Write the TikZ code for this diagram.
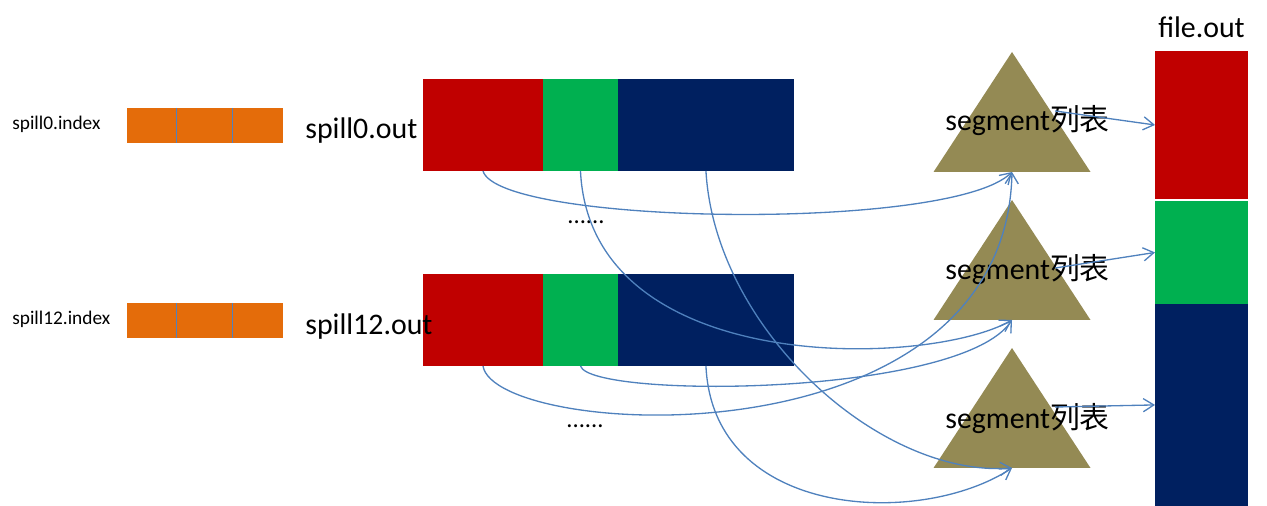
\documentclass[tikz,border=0pt]{standalone}
\usepackage{fontspec}
\setmainfont{Carlito}
\newfontfamily\cjk{Noto Sans CJK SC}
\usepackage{xcolor}
\usepackage{tikz}
\usetikzlibrary{positioning,shapes.geometric,arrows.meta}
\definecolor{partred}{HTML}{C00000}
\definecolor{partgreen}{HTML}{00B050}
\definecolor{partnavy}{HTML}{002060}
\definecolor{idxorange}{HTML}{E46C0A}
\definecolor{segolive}{HTML}{948A54}
\definecolor{linkblue}{HTML}{4F81BD}

\begin{document}
\begin{tikzpicture}[x=0.02cm, y=-0.02cm, >={Straight Barb[length=6pt,width=7.5pt]},
    part/.style={inner sep=0pt, outer sep=0pt, minimum height=1.84cm},
    idxcell/.style={fill=idxorange, inner sep=0pt, outer sep=0pt, minimum height=0.7cm},
    segtri/.style={isosceles triangle, isosceles triangle stretches, shape border rotate=90,
        fill=segolive, inner sep=0pt, outer sep=0pt, minimum width=3.14cm, minimum height=2.4cm, anchor=apex},
    biglabel/.style={inner sep=0pt, font=\fontsize{17}{20}\selectfont},
    smalllabel/.style={inner sep=0pt, anchor=west, font=\fontsize{11}{13}\selectfont},
    divline/.style={draw=linkblue, line width=0.5pt},
    link/.style={->, draw=linkblue, line width=0.75pt}]
    \useasboundingbox (0,0) rectangle (1267,506);

    % index files
    \node[smalllabel] (i0) at (12,124) {spill0.index};
    \node[idxcell, minimum width=0.98cm, anchor=north west] (c01) at (127,108) {};
    \node[idxcell, minimum width=1.12cm, right=0pt of c01] (c02) {};
    \node[idxcell, minimum width=1.02cm, right=0pt of c02] (c03) {};
    \draw[divline] (c01.north east) -- (c01.south east);
    \draw[divline] (c02.north east) -- (c02.south east);

    \node[smalllabel] (i12) at (12,319) {spill12.index};
    \node[idxcell, minimum width=0.98cm, anchor=north west] (c121) at (127,303) {};
    \node[idxcell, minimum width=1.12cm, right=0pt of c121] (c122) {};
    \node[idxcell, minimum width=1.02cm, right=0pt of c122] (c123) {};
    \draw[divline] (c121.north east) -- (c121.south east);
    \draw[divline] (c122.north east) -- (c122.south east);

    % spill files
    \node[part, fill=partred, minimum width=2.4cm, anchor=north west] (r0) at (423,79) {};
    \node[part, fill=partgreen, minimum width=1.5cm, right=0pt of r0] (g0) {};
    \node[part, fill=partnavy, minimum width=3.52cm, right=0pt of g0] (n0) {};
    \node[biglabel, anchor=west] (o0) at (305,131) {spill0.out};

    \node[part, fill=partred, minimum width=2.4cm, anchor=north west] (r12) at (423,274) {};
    \node[part, fill=partgreen, minimum width=1.5cm, right=0pt of r12] (g12) {};
    \node[part, fill=partnavy, minimum width=3.52cm, right=0pt of g12] (n12) {};
    \node[biglabel, anchor=west] (o12) at (305,327) {spill12.out};

    \node[inner sep=0pt, anchor=base, font=\fontsize{14}{16}\selectfont] (d1) at (586,224) {......};
    \node[inner sep=0pt, anchor=base, font=\fontsize{14}{16}\selectfont] (d2) at (585,427) {......};

    % segment lists
    \node[segtri] (t1) at (1012,52) {};
    \node[segtri] (t2) at (1012,200) {};
    \node[segtri] (t3) at (1012,348) {};
    \node[biglabel, anchor=west] (s1) at (945,121) {segment{\cjk 列表}};
    \node[biglabel, anchor=west] (s2) at (945,270) {segment{\cjk 列表}};
    \node[biglabel, anchor=west] (s3) at (945,419) {segment{\cjk 列表}};

    % merged output
    \node[inner sep=0pt, outer sep=0pt, fill=partred, minimum width=1.86cm, minimum height=2.96cm, anchor=north west] (f1) at (1155,51) {};
    \node[inner sep=0pt, outer sep=0pt, fill=partgreen, minimum width=1.86cm, minimum height=2.06cm, below=0.04cm of f1] (f2) {};
    \node[inner sep=0pt, outer sep=0pt, fill=partnavy, minimum width=1.86cm, minimum height=4.04cm, below=0pt of f2] (f3) {};
    \node[biglabel, above=0.26cm of f1] (fo) {file.out};

    % partitions to segment lists
    \draw[link] (r0.south) .. controls +(16,54) and +(-62,60) .. (t1.south);
    \draw[link] (g0.south) .. controls +(10,208) and +(-82,47) .. (t2.south);
    \draw[link] (n0.south) .. controls +(9,158) and +(-132,10) .. (t3.south);
    \draw[link] (r12.south) .. controls +(12,73) and +(-7,297) .. (t1.south);
    \draw[link] (g12.south) .. controls +(10,33) and +(-52,77) .. (t2.south);
    \draw[link] (n12.south) .. controls +(7,153) and +(-92,60) .. (t3.south);

    % segment lists to file.out
    \draw[link] ([xshift=-1.1cm,yshift=0.2cm]s1.east) -- (f1.west);
    \draw[link] ([xshift=-1.1cm,yshift=0.04cm]s2.east) -- (f2.west);
    \draw[link] ([xshift=-1.1cm,yshift=0.24cm]s3.east) -- (f3.west);
\end{tikzpicture}
\end{document}
